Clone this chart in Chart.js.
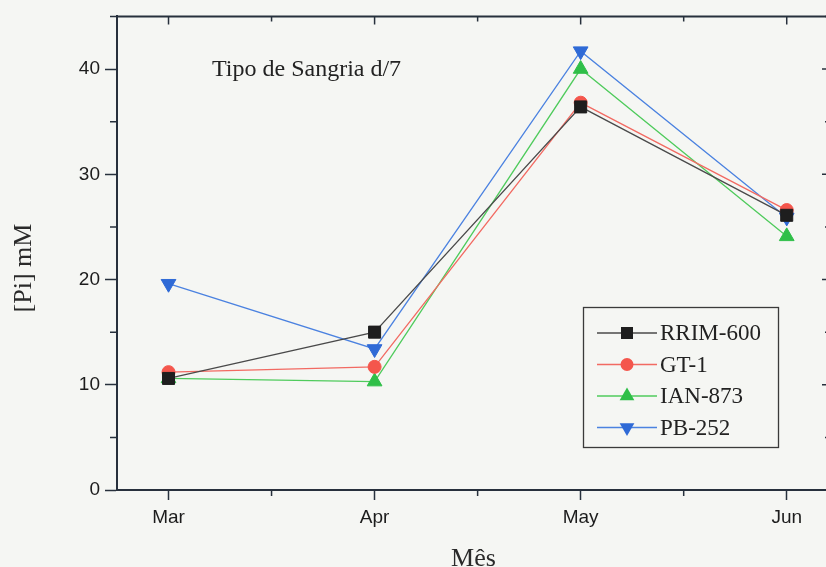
<!DOCTYPE html>
<html>
<head>
<meta charset="utf-8">
<script src="https://cdn.jsdelivr.net/npm/chart.js"></script>
<style>
  html, body { margin: 0; padding: 0; background: #f5f6f3; overflow: hidden; }
  #wrap { width: 826px; height: 567px; overflow: hidden; }
</style>
</head>
<body>
<div id="wrap"><canvas id="grafPi" width="840" height="575"></canvas></div>
<script>
"use strict";

// dados
const months = ["Mar", "Apr", "May", "Jun"];
const rrim600 = [10.6, 15.0, 36.4, 26.1];
const gt1 = [11.2, 11.7, 36.8, 26.6];
const ian873 = [10.6, 10.3, 40.0, 24.1];
const pb252 = [19.6, 13.4, 41.7, 25.9];
const yTicks = [0, 10, 20, 30, 40];

const axisColor = "#27303c";
const serif = "'Liberation Serif', 'Times New Roman', serif";
const sans = "'Liberation Sans', Arial, sans-serif";

function toPoints(arr) {
  return arr.map(function (v, i) { return { x: i + 1, y: v }; });
}

function serie(label, values, line, fill, style, radius, rotation) {
  return {
    label: label,
    data: toPoints(values),
    borderColor: line,
    borderWidth: 1.3,
    pointStyle: style,
    pointRadius: radius,
    pointRotation: rotation || 0,
    pointBackgroundColor: fill,
    pointBorderColor: fill,
    pointBorderWidth: 1,
    tension: 0,
    fill: false
  };
}

// marcador para a legenda
function marker(ctx, ds, x, y) {
  const r = ds.pointRadius;
  ctx.save();
  ctx.fillStyle = ds.pointBackgroundColor;
  ctx.translate(x, y);
  ctx.rotate(ds.pointRotation * Math.PI / 180);
  ctx.beginPath();
  if (ds.pointStyle === "rect") {
    const s = Math.SQRT1_2 * r;
    ctx.rect(-s, -s, 2 * s, 2 * s);
  } else if (ds.pointStyle === "circle") {
    ctx.arc(0, 0, r, 0, Math.PI * 2);
  } else {
    ctx.moveTo(0, -r);
    ctx.lineTo(r * 0.866, r * 0.5);
    ctx.lineTo(-r * 0.866, r * 0.5);
    ctx.closePath();
  }
  ctx.fill();
  ctx.restore();
}

const framePlugin = {
  id: "frame",
  beforeDraw: function (chart) {
    const ctx = chart.ctx;
    ctx.save();
    ctx.fillStyle = "#f5f6f3";
    ctx.fillRect(0, 0, chart.width, chart.height);
    ctx.restore();
  },
  beforeDatasetsDraw: function (chart) {
    const ctx = chart.ctx;
    const a = chart.chartArea;
    const xs = chart.scales.x;
    const ys = chart.scales.y;
    ctx.save();
    ctx.strokeStyle = axisColor;
    ctx.lineWidth = 2;
    // borda de cima e da direita
    ctx.beginPath();
    ctx.moveTo(a.left, a.top);
    ctx.lineTo(a.right, a.top);
    ctx.lineTo(a.right, a.bottom);
    ctx.stroke();

    ctx.lineWidth = 1.5;
    ctx.beginPath();
    // ticks de x (baixo: fora, cima: dentro)
    for (let i = 1; i <= months.length; i++) {
      const px = xs.getPixelForValue(i);
      ctx.moveTo(px, a.top); ctx.lineTo(px, a.top + 8);
      if (i < months.length) {
        const pm = xs.getPixelForValue(i + 0.5);
        ctx.moveTo(pm, a.bottom); ctx.lineTo(pm, a.bottom + 6);
        ctx.moveTo(pm, a.top); ctx.lineTo(pm, a.top + 5);
      }
    }
    // ticks de y (menores a esquerda, todos a direita)
    for (let v = 0; v <= 45; v += 5) {
      const py = ys.getPixelForValue(v);
      if (v % 10 !== 0) {
        ctx.moveTo(a.left, py); ctx.lineTo(a.left - 7, py);
        ctx.moveTo(a.right, py); ctx.lineTo(a.right - 5, py);
      } else {
        ctx.moveTo(a.right, py); ctx.lineTo(a.right - 8, py);
      }
    }
    ctx.stroke();

    ctx.fillStyle = "#222";
    ctx.font = "24px " + serif;
    ctx.textBaseline = "alphabetic";
    ctx.fillText("Tipo de Sangria d/7", 212, 76);

    // titulo do eixo y
    ctx.save();
    ctx.translate(24, 268);
    ctx.rotate(-Math.PI / 2);
    ctx.textAlign = "center";
    ctx.textBaseline = "middle";
    ctx.font = "26px " + serif;
    ctx.fillStyle = "#2a2a2a";
    ctx.fillText("[Pi] mM", 0, 0);
    ctx.restore();
    ctx.restore();
  },
  afterDraw: function (chart) {
    // legenda dentro do gráfico
    const ctx = chart.ctx;
    ctx.save();
    ctx.strokeStyle = "#3a3a3a";
    ctx.lineWidth = 1.3;
    ctx.strokeRect(583.5, 307.5, 195, 140);
    ctx.font = "23px " + serif;
    ctx.textBaseline = "middle";
    chart.data.datasets.forEach(function (ds, i) {
      const y = 333 + i * 31.5;
      ctx.strokeStyle = ds.borderColor;
      ctx.lineWidth = 1.3;
      ctx.beginPath();
      ctx.moveTo(597, y); ctx.lineTo(657, y);
      ctx.stroke();
      marker(ctx, ds, 627, y);
      ctx.fillStyle = "#222";
      ctx.fillText(ds.label, 660, y + 1);
    });
    ctx.restore();
  }
};

const ctx = document.getElementById("grafPi");
const grafPi = new Chart(ctx, {
  type: "line",
  data: {
    datasets: [
      serie("RRIM-600", rrim600, "#4a4a4a", "#1e1e1e", "rect", 8.5),
      serie("GT-1", gt1, "#f26a62", "#f4564c", "circle", 6.5),
      serie("IAN-873", ian873, "#4fcb5c", "#2fbf48", "triangle", 8.5),
      serie("PB-252", pb252, "#4b82e0", "#2f6ad6", "triangle", 8.5, 180)
    ]
  },
  options: {
    responsive: false,
    animation: false,
    layout: { padding: { top: 15, right: 10, left: 0, bottom: 0 } },
    plugins: {
      legend: { display: false },
      tooltip: { enabled: false }
    },
    scales: {
      x: {
        type: "linear",
        min: 0.75,
        max: 4.21,
        afterFit: function (scale) { scale.height = 85; },
        afterBuildTicks: function (scale) {
          scale.ticks = months.map(function (m, i) { return { value: i + 1 }; });
        },
        ticks: {
          autoSkip: false,
          maxRotation: 0,
          padding: 6,
          color: "#1c1c1c",
          font: { family: sans, size: 19 },
          callback: function (value) { return months[value - 1]; }
        },
        grid: {
          drawOnChartArea: false,
          tickLength: 10,
          tickColor: axisColor,
          tickWidth: 1.5
        },
        border: { color: axisColor, width: 2 },
        title: {
          display: true,
          text: "Mês",
          color: "#2a2a2a",
          font: { family: serif, size: 26 },
          padding: { top: 0, bottom: 0 }
        }
      },
      y: {
        min: 0,
        max: 45,
        afterFit: function (scale) { scale.width = 117; },
        afterBuildTicks: function (scale) {
          scale.ticks = yTicks.map(function (v) { return { value: v }; });
        },
        ticks: {
          padding: 5,
          color: "#1c1c1c",
          font: { family: sans, size: 19 }
        },
        grid: {
          drawOnChartArea: false,
          tickLength: 12,
          tickColor: axisColor,
          tickWidth: 1.5
        },
        border: { color: axisColor, width: 2 },
        title: { display: false }
      }
    }
  },
  plugins: [framePlugin]
});
</script>
</body>
</html>
